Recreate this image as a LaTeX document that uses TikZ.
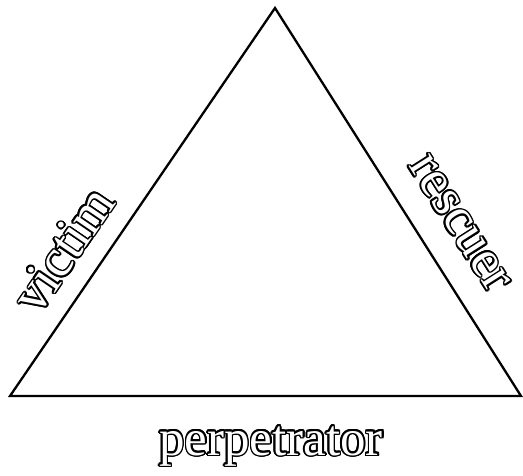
\documentclass[tikz,border=0pt]{standalone}
\usepackage{fontspec}
\setmainfont{Liberation Serif}
\usepackage{contour}
\contourlength{1.6pt}
\contournumber{16}
\tikzset{
  side/.style={line width=2.3pt, line join=miter},
  lbl/.style={inner sep=0pt, anchor=base},
}
\newcommand{\hollow}[1]{\contour{black}{\textcolor{white}{#1}}}
\begin{document}
\begin{tikzpicture}[x=1pt,y=-1pt]
  \useasboundingbox (0,0) rectangle (523,476);
  \coordinate (A) at (275,8);
  \coordinate (BL) at (10,396);
  \coordinate (BR) at (521,396);
  \draw[side] (A) -- (BL) -- (BR) -- cycle;
  \node[lbl, font=\fontsize{51}{51}\selectfont] (perp) at (271,455) {\hollow{perpetrator}};
  \node[lbl, rotate=55.7, font=\fontsize{54}{54}\selectfont] (vic) at (77.8,259.5) {\hollow{victim}};
  \node[lbl, rotate=-57.6, font=\fontsize{53}{53}\selectfont] (res) at (449.1,230.3) {\hollow{rescuer}};
\end{tikzpicture}
\end{document}
